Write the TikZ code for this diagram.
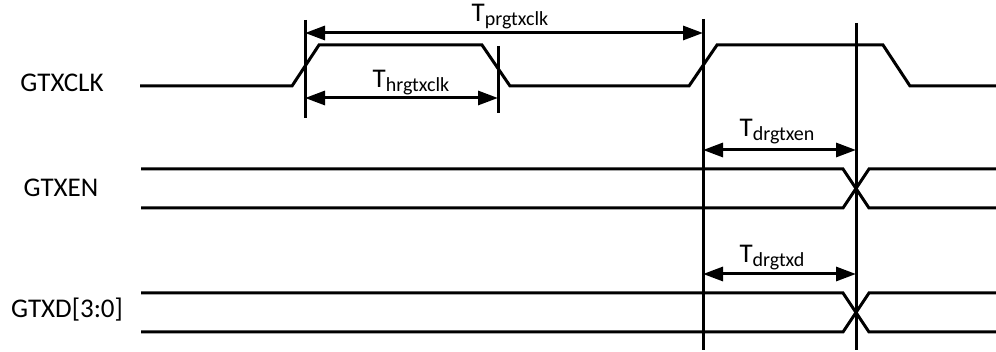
\documentclass[tikz,border=0pt]{standalone}
\usepackage{fontspec}
\setmainfont{Carlito}
\usetikzlibrary{arrows.meta}
\newcommand{\tlab}[1]{T\raisebox{-4pt}{\fontsize{20}{20}\selectfont #1}}
\begin{document}
\begin{tikzpicture}[x=1pt,y=-1pt,
  sig/.style={line width=3pt,line join=miter},
  marker/.style={line width=3pt},
  dim/.style={line width=3pt,{Triangle[length=20pt,width=14pt]}-{Triangle[length=20pt,width=14pt]}},
  lbl/.style={inner sep=0pt,anchor=base,font=\fontsize{27}{27}\selectfont},
  tl/.style={inner sep=0pt,anchor=base,font=\fontsize{27}{27}\selectfont}]
\useasboundingbox (0,0) rectangle (996,352);
% signal names
\node[lbl] (nclk) at (62,92) {GTXCLK};
\node[lbl] (nen) at (61,197) {GTXEN};
\node[lbl] (nd) at (67,318) {GTXD[3:0]};
% GTXCLK waveform
\draw[sig] (140,86) -- (292,86) -- (319,45) -- (482,45) -- (510,86) -- (689,86) -- (717,45) -- (883,45) -- (910,86) -- (998,86);
% GTXEN bus
\draw[sig] (141,169) -- (843,169) -- (869,208) -- (998,208);
\draw[sig] (141,208) -- (843,208) -- (869,169) -- (998,169);
% GTXD bus
\draw[sig] (141,293) -- (843,293) -- (869,332) -- (998,332);
\draw[sig] (141,332) -- (843,332) -- (869,293) -- (998,293);
% marker lines
\coordinate (v1t) at (305,20); \coordinate (v1b) at (305,118);
\coordinate (v2t) at (498,46); \coordinate (v2b) at (498,113);
\coordinate (v3t) at (703,19); \coordinate (v3b) at (703,350);
\coordinate (v4t) at (856,23); \coordinate (v4b) at (856,350);
\draw[marker] (v1t) -- (v1b);
\draw[marker] (v2t) -- (v2b);
\draw[marker] (v3t) -- (v3b);
\draw[marker] (v4t) -- (v4b);
% dimension arrows
\coordinate (a1l) at (305,33); \coordinate (a1r) at (703,33);
\coordinate (a2l) at (305,98); \coordinate (a2r) at (498,98);
\coordinate (a3l) at (703,150); \coordinate (a3r) at (856,150);
\coordinate (a4l) at (703,274); \coordinate (a4r) at (856,274);
\draw[dim] (a1l) -- (a1r);
\draw[dim] (a2l) -- (a2r);
\draw[dim] (a3l) -- (a3r);
\draw[dim] (a4l) -- (a4r);
% timing labels
\node[tl] (tp) at (510,22) {\tlab{prgtxclk}};
\node[tl] (th) at (411,88) {\tlab{hrgtxclk}};
\node[tl] (te) at (777,137) {\tlab{drgtxen}};
\node[tl] (td) at (772,263) {\tlab{drgtxd}};
\end{tikzpicture}
\end{document}
